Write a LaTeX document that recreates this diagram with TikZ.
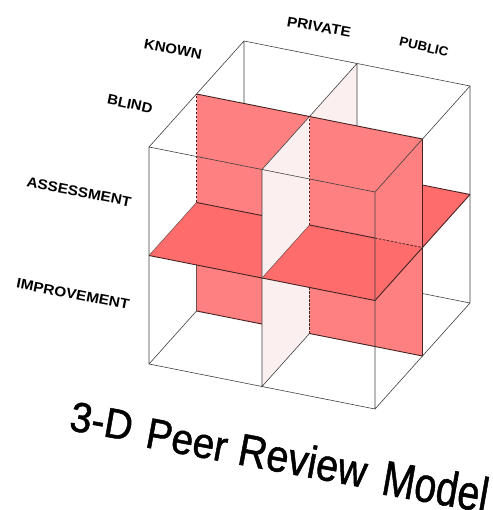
\documentclass[tikz,border=0pt]{standalone}
\usepackage{fontspec}
\setmainfont{Liberation Sans}
\newfontfamily\titlefont[FakeBold=1.2]{Liberation Sans}
\usepackage{graphicx}

\definecolor{wallred}{RGB}{255,128,128}
\definecolor{floorred}{RGB}{255,108,108}
\definecolor{palewall}{RGB}{251,239,239}
\definecolor{rimline}{RGB}{70,35,35}

\begin{document}
\begin{tikzpicture}[x=1pt,y=-1pt,
  cubeedge/.style={draw=black!75, line width=0.6pt},
  rim/.style={draw=rimline, line width=0.9pt},
  thinrim/.style={draw=rimline!80, line width=0.5pt},
  hiddenrim/.style={draw=rimline, line width=0.8pt, dash pattern=on 2.5pt off 1.5pt},
  redwall/.style={fill=wallred},
  redfloor/.style={fill=floorred},
  palepane/.style={fill=palewall},
  lbl/.style={inner sep=0pt, font=\bfseries\fontsize{14}{14}\selectfont},
  ttl/.style={inner sep=0pt, anchor=base west}]
\useasboundingbox (0,0) rectangle (492,510);

% the 2x2x2 cube in oblique projection
\begin{scope}[shift={(149,364)}, x={(113pt,-22.5pt)}, y={(47.5pt,53pt)}, z={(0pt,108.5pt)}]
  \foreach \i in {0,1,2}{\foreach \j in {0,1,2}{\foreach \k in {0,1,2}{
    \coordinate (p\i\j\k) at (\i,\j,\k);}}}
  \coordinate (q) at (1.58,1,1);

  % far edges of the cube
  \draw[cubeedge] (p000) -- (p020) -- (p220) (p020) -- (p022)
                  (p002) -- (p022) -- (p222) -- (p220);

  % left half (behind the middle pane)
  \fill[redfloor] (p011) -- (p111) -- (p121) -- (p021) -- cycle;
  \fill[redwall] (p010) -- (p110) -- (p111) -- (p011) -- cycle;
  \draw[rim] (p010) -- (p110);
  \draw[thinrim] (p010) -- (p011);
  \fill[redwall] (p011) -- (p111) -- (p112) -- (p012) -- cycle;
  \draw[rim] (p012) -- (p112);
  \draw[hiddenrim] (p011) -- (p012);
  \fill[redfloor] (p001) -- (p101) -- (p111) -- (p011) -- cycle;
  \draw[rim] (p011) -- (p111) (p001) -- (p101);
  \draw[thinrim] (p001) -- (p011);

  % middle pane x = 1
  \fill[palepane] (p100) -- (p120) -- (p122) -- (p102) -- cycle;
  \draw[cubeedge] (p100) -- (p102) -- (p122) -- (p120) -- cycle;

  % right half (in front of the middle pane)
  \fill[redfloor] (p111) -- (p211) -- (p221) -- (p121) -- cycle;
  \draw[rim] (p121) -- (p221);
  \fill[redwall] (p110) -- (p210) -- (p211) -- (p111) -- cycle;
  \draw[rim] (p110) -- (p210) -- (p211);
  \fill[redwall] (p111) -- (p211) -- (p212) -- (p112) -- cycle;
  \draw[rim] (p112) -- (p212) -- (p211);
  \draw[hiddenrim] (p110) -- (p112);
  \fill[redfloor] (p101) -- (p201) -- (p211) -- (p111) -- cycle;
  \draw[rim] (p111) -- (q) (p101) -- (p201) -- (p211) -- (p221);
  \draw[hiddenrim] (q) -- (p211);
  \draw[thinrim] (p101) -- (p111);

  % near edges of the cube
  \draw[cubeedge] (p000) -- (p200) -- (p202) -- (p002) -- cycle
                  (p202) -- (p222) (p200) -- (p220);
\end{scope}

% axis labels
\node[lbl, rotate=-11] (known) at (173,49) {\scalebox{1.07}[1]{KNOWN}};
\node[lbl, rotate=-10] (private) at (319,27) {\scalebox{1.1}[1]{PRIVATE}};
\node[lbl, rotate=-13, font=\bfseries\fontsize{13}{13}\selectfont] (public) at (424,47) {\scalebox{1.03}[1]{PUBLIC}};
\node[lbl, rotate=-12] (blind) at (130,104) {\scalebox{1.07}[1]{BLIND}};
\node[lbl, rotate=-11] (assess) at (79,192) {\scalebox{1.1}[1]{ASSESSMENT}};
\node[lbl, rotate=-11] (improve) at (73,294) {\scalebox{1.1}[1]{IMPROVEMENT}};

% title
\node[ttl, rotate=-10, font=\titlefont\fontsize{42}{42}\selectfont] (t1) at (68,430) {\scalebox{0.93}[1]{3-D}};
\node[ttl, rotate=-10.5, font=\titlefont\fontsize{43}{43}\selectfont] (t2) at (144,447) {\scalebox{0.9}[1]{Peer}};
\node[ttl, rotate=-10.5, font=\titlefont\fontsize{45}{45}\selectfont] (t3) at (236,464) {\scalebox{0.88}[1]{Review}};
\node[ttl, rotate=-10, font=\titlefont\fontsize{49}{49}\selectfont] (t4) at (380,494) {\scalebox{0.8}[1]{Model}};
\end{tikzpicture}
\end{document}
